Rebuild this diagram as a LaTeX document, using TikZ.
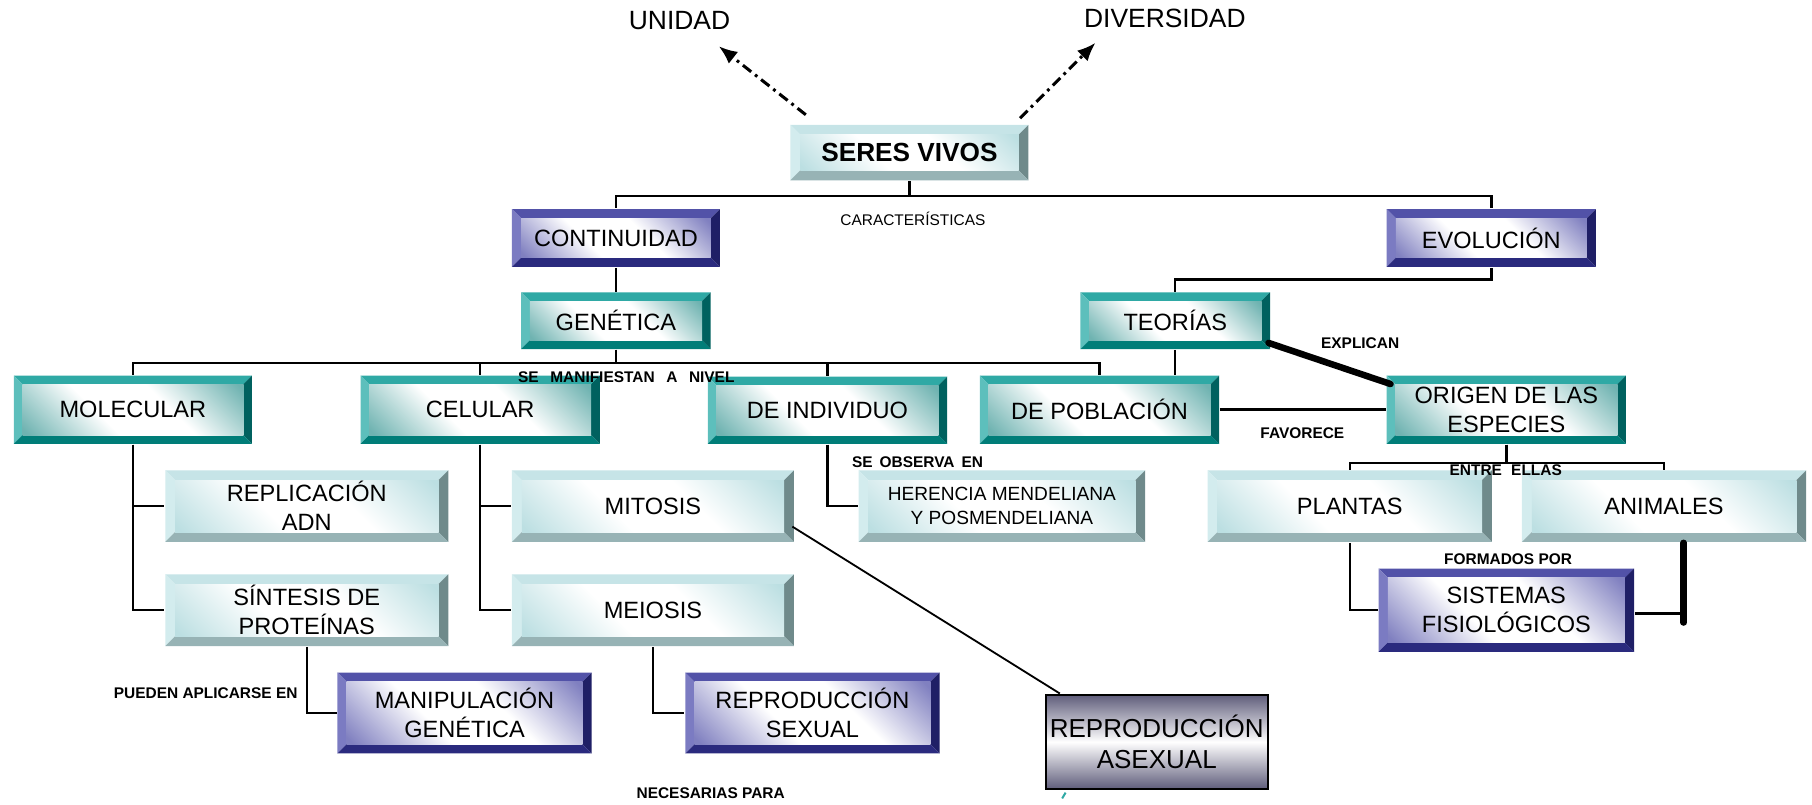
\documentclass[tikz,border=0pt]{standalone}
\usepackage{fontspec}
\setmainfont{Liberation Sans}
\usetikzlibrary{arrows.meta,calc}

% teal
\definecolor{tT}{HTML}{2FA9A5}
\definecolor{tL}{HTML}{5DBFBC}
\definecolor{tR}{HTML}{00615F}
\definecolor{tB}{HTML}{007D78}
\definecolor{tF}{HTML}{6FB3B1}
% blue
\definecolor{bT}{HTML}{5252A8}
\definecolor{bL}{HTML}{7B7BC2}
\definecolor{bR}{HTML}{1F1F66}
\definecolor{bB}{HTML}{2A2A7E}
\definecolor{bF}{HTML}{8080C0}
% light
\definecolor{lT}{HTML}{C6E4E7}
\definecolor{lL}{HTML}{D3ECEE}
\definecolor{lR}{HTML}{6F8A8B}
\definecolor{lB}{HTML}{97B3B5}
\definecolor{lF}{HTML}{BCDFE2}
% gray
\definecolor{gA}{HTML}{5E5C7A}

\pgfdeclareverticalshading{tealface}{100bp}{color(0bp)=(tF); color(16bp)=(tF); color(40bp)=(white); color(60bp)=(white); color(84bp)=(tF); color(100bp)=(tF)}
\pgfdeclareverticalshading{blueface}{100bp}{color(0bp)=(bF); color(16bp)=(bF); color(40bp)=(white); color(60bp)=(white); color(84bp)=(bF); color(100bp)=(bF)}
\pgfdeclareverticalshading{lightface}{100bp}{color(0bp)=(lF); color(16bp)=(lF); color(40bp)=(white); color(60bp)=(white); color(84bp)=(lF); color(100bp)=(lF)}

\tikzset{
  bev/.style n args={6}{fill=white, inner sep=0pt, align=center,
    path picture={
      \def\bw{#6}
      \coordinate (NW) at (path picture bounding box.north west);
      \coordinate (NE) at (path picture bounding box.north east);
      \coordinate (SW) at (path picture bounding box.south west);
      \coordinate (SE) at (path picture bounding box.south east);
      \fill[#1] (NW) -- (NE) -- ([shift={(-\bw,-\bw)}]NE) -- ([shift={(\bw,-\bw)}]NW) -- cycle;
      \fill[#2] (NW) -- ([shift={(\bw,-\bw)}]NW) -- ([shift={(\bw,\bw)}]SW) -- (SW) -- cycle;
      \fill[#3] (NE) -- (SE) -- ([shift={(-\bw,\bw)}]SE) -- ([shift={(-\bw,-\bw)}]NE) -- cycle;
      \fill[#4] (SW) -- (SE) -- ([shift={(-\bw,\bw)}]SE) -- ([shift={(\bw,\bw)}]SW) -- cycle;
      \shade[shading=#5, shading angle=-45] ([shift={(\bw,-\bw)}]NW) rectangle ([shift={(-\bw,\bw)}]SE);
    }},
  tealbox/.style={bev={tT}{tL}{tR}{tB}{tealface}{0.075cm}},
  bluebox/.style={bev={bT}{bL}{bR}{bB}{blueface}{0.08cm}},
  lightbox/.style={bev={lT}{lL}{lR}{lB}{lightface}{0.085cm}},
  graybox/.style={draw=black, line width=0.5pt, top color=gA, bottom color=gA, middle color=white, inner sep=0pt, align=center},
  sz/.style 2 args={minimum width=#1*0.01cm, minimum height=#2*0.01cm},
  big/.style={font=\fontsize{5.8pt}{7.1pt}\selectfont},
  lbl/.style={font=\fontsize{3.8pt}{4.5pt}\selectfont\bfseries, inner sep=0pt},
  ttl/.style={font=\fontsize{6.5pt}{7.5pt}\selectfont, inner sep=0pt},
  ln/.style={line width=0.6pt},
  thickln/.style={line width=1.6pt, line cap=round},
  dd/.style={line width=0.75pt, dash pattern=on 2.6pt off 1.2pt on 0.7pt off 1.2pt, -{Latex[length=0.16cm,width=0.13cm]}},
}

\begin{document}
\begin{tikzpicture}[x=0.01cm, y=-0.01cm]
\useasboundingbox (0,0) rectangle (1568,696);

% boxes
\node[lightbox, sz={206}{48}, font=\fontsize{6.45pt}{7.5pt}\selectfont\bfseries] (sv) at (787,132) {SERES VIVOS};
\node[bluebox, sz={180}{50}, big] (cont) at (533,206) {CONTINUIDAD};
\node[bluebox, sz={181}{50}, big] (evol) at (1290.5,206) {EVOLUCIÓN};
\node[tealbox, sz={164}{49}, big] (gen) at (533,277.5) {GENÉTICA};
\node[tealbox, sz={164}{49}, big] (teo) at (1017,277.5) {TEORÍAS};
\node[tealbox, sz={206}{59}, big] (mol) at (115,354.5) {MOLECULAR};
\node[tealbox, sz={207}{59}, big] (cel) at (415.5,354.5) {CELULAR};
\node[tealbox, sz={207}{58}, big] (ind) at (716,355) {DE INDIVIDUO};
\node[tealbox, sz={207}{59}, big] (pob) at (951.5,354.5) {DE POBLACIÓN};
\node[tealbox, sz={207}{59}, big, text depth=-1.5pt] (ori) at (1303.5,354.5) {ORIGEN DE LAS\\ESPECIES};
\node[lightbox, sz={245}{62}, big] (rep) at (265.5,438) {REPLICACIÓN\\ADN};
\node[lightbox, sz={244}{62}, big] (mit) at (565,438) {MITOSIS};
\node[lightbox, sz={248}{62}, font=\fontsize{4.7pt}{6pt}\selectfont] (her) at (867,438) {HERENCIA MENDELIANA\\Y POSMENDELIANA};
\node[lightbox, sz={246}{62}, big] (pla) at (1168,438) {PLANTAS};
\node[lightbox, sz={246}{62}, big] (ani) at (1440,438) {ANIMALES};
\node[lightbox, sz={245}{62}, big] (sin) at (265.5,528) {SÍNTESIS DE\\PROTEÍNAS};
\node[lightbox, sz={244}{62}, big] (mei) at (565,528) {MEIOSIS};
\node[bluebox, sz={221}{72}, big] (sis) at (1303.5,528) {SISTEMAS\\FISIOLÓGICOS};
\node[bluebox, sz={220}{70}, big] (man) at (402,617) {MANIPULACIÓN\\GENÉTICA};
\node[bluebox, sz={220}{70}, big] (sex) at (703,617) {REPRODUCCIÓN\\SEXUAL};
\node[graybox, sz={192}{82}, font=\fontsize{6.4pt}{7.6pt}\selectfont] (asx) at (1001,642) {REPRODUCCIÓN\\ASEXUAL};

% titles
\node[ttl] (uni) at (588,18) {UNIDAD};
\node[ttl] (div) at (1008,16) {DIVERSIDAD};
\coordinate (unitip) at (622,40);
\coordinate (divtip) at (948,37);
\draw[dd] ($(sv.north west)+(14,-8)$) -- (unitip);
\draw[dd] ($(sv.north east)+(-8,-5)$) -- (divtip);

% connectors
\draw[ln] (sv.south) -- ++(0,13) -| (cont.north);
\draw[ln] (sv.south) -- ++(0,13) -| (evol.north);
\draw[ln] (cont.south) -- (gen.north);
\draw[ln] (evol.south) -- ++(0,10) -| (teo.north);
\foreach \n in {mol,cel,ind,pob} \draw[ln] (gen.south) -- ++(0,11.5) -| (\n.north);
\draw[ln] (teo.south) -- (teo.south |- pob.north);
\draw[ln] (mol.south) |- (rep.west);
\draw[ln] (mol.south) |- (sin.west);
\draw[ln] (cel.south) |- (mit.west);
\draw[ln] (cel.south) |- (mei.west);
\draw[ln] (ind.south) |- (her.west);
\draw[ln] (sin.south) |- (man.west);
\draw[ln] (mei.south) |- (sex.west);
\draw[line width=0.45pt] ($(mit.south east)+(-2,-14)$) -- ($(asx.north west)+(13,0)$);
\draw[thickln] ($(teo.south east)+(-2,-6)$) -- ($(ori.north west)+(4,8)$);
\draw[ln] (pob.east) -- (ori.west);
\draw[ln] (ori.south) -- ++(0,16) -| (pla.north);
\draw[ln] (ori.south) -- ++(0,16) -| (ani.north);
\draw[ln] (pla.south) |- (sis.west);
\coordinate (aniend) at ($(ani.south)+(17,69)$);
\draw[thickln] ($(ani.south)+(17,0)$) -- (aniend);
\coordinate (sise) at ($(sis.east)+(0,3)$);
\draw[ln] (sise) -- (sise -| aniend);
\draw[tT, line width=0.5pt] ($(asx.south west)+(18,2)$) -- ++(-3,5);

% labels
\node[lbl, font=\fontsize{3.8pt}{4.5pt}\selectfont] (l1) at (790,189) {CARACTERÍSTICAS};
\node[lbl] (l2) at (542,326) {SE\hspace{0.1cm}MANIFIESTAN\hspace{0.1cm}A\hspace{0.1cm}NIVEL};
\node[lbl] (l3) at (794,400) {SE\hspace{0.06cm}OBSERVA\hspace{0.06cm}EN};
\node[lbl] (l4) at (1177,297) {EXPLICAN};
\node[lbl] (l5) at (1127,375) {FAVORECE};
\node[lbl] (l6) at (1303,407) {ENTRE\hspace{0.08cm}ELLAS};
\node[lbl] (l7) at (1305,484) {FORMADOS POR};
\node[lbl] (l8) at (178,600) {PUEDEN APLICARSE EN};
\node[lbl] (l9) at (615,686) {NECESARIAS PARA};
\end{tikzpicture}
\end{document}
